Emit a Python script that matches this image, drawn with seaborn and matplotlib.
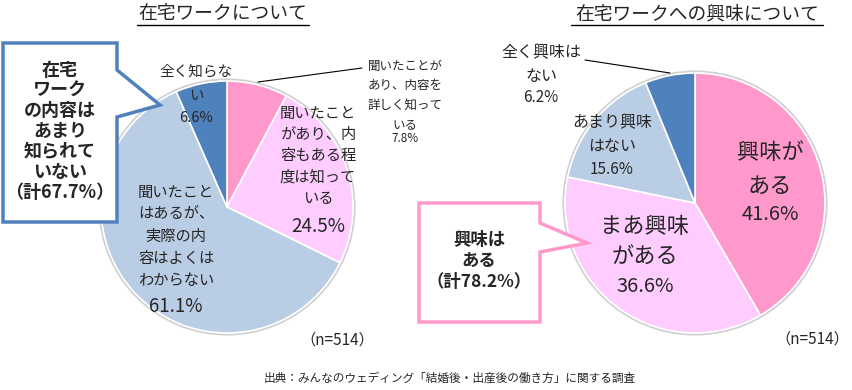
import matplotlib
matplotlib.use("Agg")
import matplotlib.pyplot as plt
import matplotlib.patches as mpatches
import seaborn as sns

sns.set_theme(style="white")
plt.rcParams['font.family'] = ['Noto Sans CJK JP', 'DejaVu Sans']

# data
left_title = "在宅ワークについて"
left_labels = ["聞いたことが\nあり、内容を\n詳しく知って\nいる",
               "聞いたこと\nがあり、内\n容もある程\n度は知って\nいる",
               "聞いたこと\nはあるが、\n実際の内\n容はよくは\nわからない",
               "全く知らな\nい"]
left_values = [7.8, 24.5, 61.1, 6.6]

right_title = "在宅ワークへの興味について"
right_labels = ["興味が\nある", "まあ興味\nがある", "あまり興味\nはない", "全く興味は\nない"]
right_values = [41.6, 36.6, 15.6, 6.2]

colors = ["#FF99CC", "#FFCCFF", "#B9CDE5", "#4F81BD"]
n_text = "（n=514）"
left_note = "在宅\nワーク\nの内容は\nあまり\n知られて\nいない\n（計67.7%）"
right_note = "興味は\nある\n（計78.2%）"
source = "出典：みんなのウェディング「結婚後・出産後の働き方」に関する調査"

W, H = 853, 390
fig = plt.figure(figsize=(W / 100, H / 100), dpi=100)
ax = fig.add_axes([0, 0, 1, 1])


def Y(py):
    return H - py


def draw_pie(values, cx, cy, r):
    ax.add_patch(mpatches.Circle((cx, Y(cy)), r + 1.5, facecolor="none",
                                 edgecolor="#D0D0D0", lw=1.5, zorder=1))
    ax.pie(values, colors=colors, startangle=90, counterclock=False,
           center=(cx, Y(cy)), radius=r,
           wedgeprops=dict(edgecolor="white", linewidth=1.2))


def draw_lines(text, x, y0, step, fs, zorder=3, **kw):
    # one text per line so the spacing follows the reference
    for i, line in enumerate(text.split("\n")):
        ax.text(x, Y(y0 + i * step), line, ha="center", va="center",
                fontsize=fs, zorder=zorder, **kw)


draw_pie(left_values, 227, 207, 126)
draw_pie(right_values, 695, 203, 130)

ax.set_xlim(0, W)
ax.set_ylim(0, H)
ax.set_aspect("equal")
ax.axis("off")

# titles with underline
ax.text(223, Y(14), left_title, ha="center", va="center", fontsize=13.5)
ax.plot([137, 309], [Y(25), Y(25)], color="black", lw=1)
ax.text(697, Y(14), right_title, ha="center", va="center", fontsize=13.5)
ax.plot([571, 823], [Y(25), Y(25)], color="black", lw=1)

# left pie labels: x, first line y, step, label size, pct y, pct size
left_pos = [(405, 66, 19.5, 9, 139, 8.5),
            (318, 113, 21.5, 11, 227, 13.5),
            (176, 192, 22, 11, 307, 13.5),
            (196, 72, 24, 10.5, 118, 10.5)]
for lab, val, (x, y, st, fs, py, ps) in zip(left_labels, left_values, left_pos):
    draw_lines(lab, x, y, st, fs)
    ax.text(x, Y(py), f"{val}%", ha="center", va="center", fontsize=ps)

ax.plot([258, 362], [Y(82), Y(68)], color="black", lw=0.8)

# right pie labels
right_pos = [(770, 153, 33, 16, 215, 14.5),
             (645, 227, 30, 16, 287, 14.5),
             (612, 123, 24, 11.5, 170, 11),
             (541, 53, 24, 11.5, 98, 11)]
for lab, val, (x, y, st, fs, py, ps) in zip(right_labels, right_values, right_pos):
    draw_lines(lab, x, y, st, fs)
    ax.text(x, Y(py), f"{val}%", ha="center", va="center", fontsize=ps)

ax.plot([585, 670], [Y(60), Y(73)], color="black", lw=0.8)

# callout boxes
left_box = [(3, 43), (117, 43), (117, 70), (160, 105), (117, 117), (117, 222), (3, 222)]
ax.add_patch(mpatches.Polygon([(x, Y(y)) for x, y in left_box], closed=True,
                              facecolor="white", edgecolor="#4F81BD", lw=2.5, zorder=5))
draw_lines(left_note, 60, 70, 20.5, 13, zorder=6, fontweight="bold")

right_box = [(419, 203), (540, 203), (540, 223), (587, 243), (540, 252), (540, 322), (419, 322)]
ax.add_patch(mpatches.Polygon([(x, Y(y)) for x, y in right_box], closed=True,
                              facecolor="white", edgecolor="#FF99CC", lw=2.5, zorder=5))
draw_lines(right_note, 479, 240, 21, 12.5, zorder=6, fontweight="bold")

ax.text(337, Y(340), n_text, ha="center", va="center", fontsize=11)
ax.text(812, Y(339), n_text, ha="center", va="center", fontsize=11)
ax.text(450, Y(378), source, ha="center", va="center", fontsize=8.4)

fig.savefig("out.png", dpi=100)
